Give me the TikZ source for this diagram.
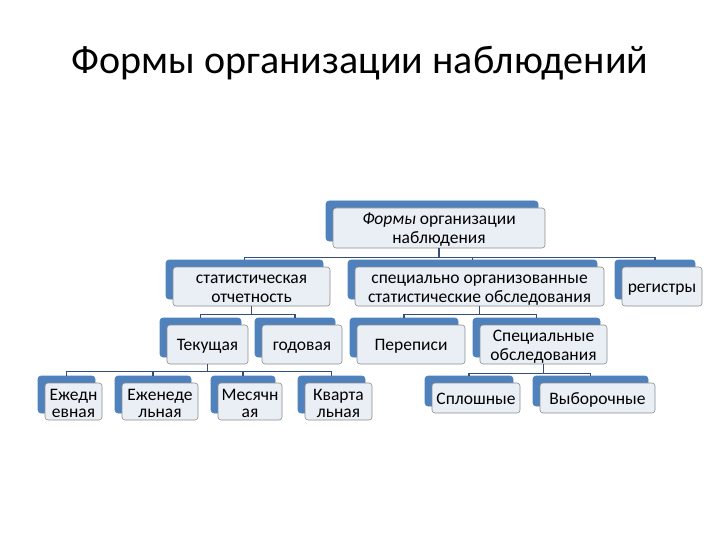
\documentclass[tikz,border=0pt]{standalone}
\usepackage{fontspec}
\setmainfont{Carlito}
\usetikzlibrary{shadows}
\definecolor{boxblue}{HTML}{4F81BD}
\definecolor{boxfill}{HTML}{EAEFF6}
\definecolor{boxline}{HTML}{8C8C8C}
\definecolor{linkcol}{HTML}{34507A}

\begin{document}
\begin{tikzpicture}[x=1pt, y=-1pt,
  boxbase/.style={rectangle, draw=boxline, fill=boxfill, rounded corners=3pt, line width=0.6pt,
    align=flush center, inner sep=0pt, text width=#1,
    general shadow={fill=boxblue, draw=boxblue, shadow xshift=-7pt, shadow yshift=7pt}},
  box/.style={boxbase=#1, font=\fontsize{17.5}{19}\selectfont,
    execute at begin node=\noindent\rule{0pt}{15.8pt}, execute at end node=\rule[-3.2pt]{0pt}{0pt}},
  smallbox/.style={boxbase=#1, font=\fontsize{17.5}{17.7}\selectfont,
    execute at begin node=\noindent\rule{0pt}{16.2pt}, execute at end node=\rule[-1.5pt]{0pt}{0pt}},
  link/.style={draw=linkcol, line width=1.4pt}
]
  \useasboundingbox (0,0) rectangle (720,540);
  \node[font=\fontsize{40}{48}\selectfont] (title) at (360,63) {Формы организации наблюдений};

  % root
  \node[box=212pt, minimum height=40pt] (forms) at (439,228) {\textit{Формы} организации\\наблюдения};

  % level 2
  \node[box=157pt, minimum height=39pt] (stat) at (251.5,286.5) {статистическая\\отчетность};
  \node[box=249pt, minimum height=39pt] (spec) at (479.5,286.5) {специально организованные\\статистические обследования};
  \node[box=80pt, minimum height=39pt] (reg) at (662,286.5) {регистры};

  % level 3
  \node[box=81pt, minimum height=39pt] (cur) at (207.5,344.5) {Текущая};
  \node[box=80pt, minimum height=39pt] (year) at (302,344.5) {годовая};
  \node[box=108pt, minimum height=39pt] (census) at (411,344.5) {Переписи};
  \node[box=127pt, minimum height=39pt] (survey) at (543.5,344.5) {Специальные\\обследования};

  % level 4
  \node[smallbox=57pt, minimum height=37pt] (daily) at (73.5,401.5) {Ежедн\\евная};
  \node[smallbox=76pt, minimum height=37pt] (weekly) at (160,401.5) {Еженеде\\льная};
  \node[smallbox=64pt, minimum height=37pt] (month) at (250,401.5) {Месячн\\ая};
  \node[smallbox=67pt, minimum height=37pt] (quart) at (338.5,401.5) {Кварта\\льная};
  \node[box=88pt, minimum height=30pt] (full) at (476,398) {Сплошные};
  \node[box=115pt, minimum height=30pt] (sample) at (597.5,398) {Выборочные};

  % connectors
  \foreach \kid in {stat, spec, reg}
    \draw[link] (forms.south) -- ++(0,9) -| ([shift={(-7pt,7pt)}]\kid.north);
  \foreach \kid in {cur, year}
    \draw[link] (stat.south) -- ++(0,8) -| ([shift={(-7pt,7pt)}]\kid.north);
  \foreach \kid in {census, survey}
    \draw[link] (spec.south) -- ++(0,8) -| ([shift={(-7pt,7pt)}]\kid.north);
  \foreach \kid in {daily, weekly, month, quart}
    \draw[link] (cur.south) -- ++(0,7) -| ([shift={(-7pt,7pt)}]\kid.north);
  \foreach \kid in {full, sample}
    \draw[link] (survey.south) -- ++(0,9) -| ([shift={(-7pt,7pt)}]\kid.north);
\end{tikzpicture}
\end{document}
